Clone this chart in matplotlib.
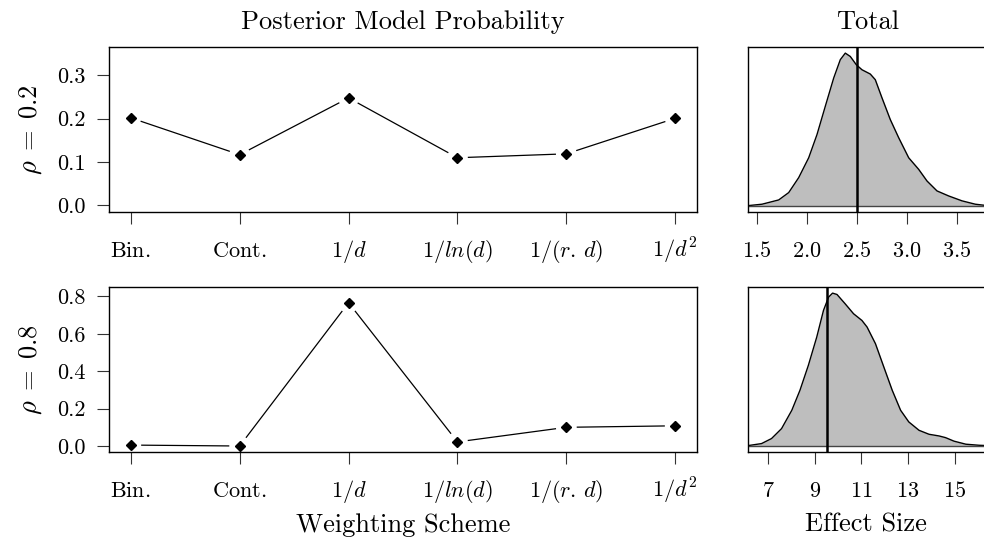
import numpy as np
import matplotlib
matplotlib.use("Agg")
import matplotlib.pyplot as plt

plt.rcParams['font.family'] = 'serif'
plt.rcParams['font.serif'] = ['cmr10']
plt.rcParams['mathtext.fontset'] = 'cm'
plt.rcParams['axes.formatter.use_mathtext'] = True

# ---------------- data ----------------
schemes = [r"$\mathrm{Bin.}$", r"$\mathrm{Cont.}$", r"$1/d$", r"$1/ln(d)$",
           r"$1/(r.\,d)$", r"$1/d^2$"]
prob_rho02 = [0.202, 0.117, 0.248, 0.110, 0.119, 0.201]
prob_rho08 = [0.005, 0.000, 0.766, 0.022, 0.100, 0.108]
rho_labels = [r"$\rho\;=\;0.2$", r"$\rho\;=\;0.8$"]
yticks_02 = [0.0, 0.1, 0.2, 0.3]
yticks_08 = [0.0, 0.2, 0.4, 0.6, 0.8]

# effect size posterior densities (relative heights)
eff_x_02 = [1.417, 1.55, 1.717, 1.817, 1.917, 2.017, 2.10, 2.183, 2.267, 2.333,
            2.383, 2.433, 2.493, 2.55, 2.633, 2.683, 2.75, 2.833, 2.917, 3.017,
            3.117, 3.20, 3.30, 3.417, 3.55, 3.683, 3.80]
eff_d_02 = [0.002, 0.011, 0.039, 0.087, 0.185, 0.315, 0.467, 0.652, 0.837,
            0.957, 1.000, 0.978, 0.924, 0.891, 0.863, 0.826, 0.707, 0.565,
            0.446, 0.315, 0.239, 0.163, 0.098, 0.065, 0.033, 0.011, 0.002]
true_02 = 2.5
xticks_02 = [1.5, 2.0, 2.5, 3.0, 3.5]

eff_x_08 = [6.14, 6.71, 7.14, 7.57, 8.01, 8.36, 8.72, 9.08, 9.37, 9.59, 9.76,
            9.95, 10.30, 10.66, 11.02, 11.24, 11.60, 11.96, 12.32, 12.68,
            13.03, 13.47, 13.90, 14.33, 14.61, 14.97, 15.48, 16.05, 16.40]
eff_d_08 = [0.002, 0.015, 0.048, 0.113, 0.233, 0.364, 0.527, 0.712, 0.887,
            0.974, 1.000, 0.991, 0.930, 0.865, 0.821, 0.778, 0.669, 0.516,
            0.364, 0.233, 0.157, 0.102, 0.076, 0.065, 0.054, 0.031, 0.011,
            0.004, 0.002]
true_08 = 9.5
xticks_08 = [7, 9, 11, 13, 15]

# ---------------- layout ----------------
W, H = 984, 543
fig = plt.figure(figsize=(W / 100, H / 100), dpi=100)

def fx(px):
    return px / W

def fy(py):
    return 1 - py / H

ax_l_left, ax_l_right = 109, 697
ax_r_left, ax_r_right = 748, 988
rows = [(47, 212), (287, 452)]

TICK_LEN = 8.6
TICK_FS = 16
LAB_FS = 19

def style_axes(ax):
    for s in ax.spines.values():
        s.set_linewidth(1.0)
        s.set_color('black')
    ax.tick_params(direction='out', length=TICK_LEN, width=0.8, color='#333333',
                   labelsize=TICK_FS)
    ax.tick_params(axis='x', pad=24)
    ax.tick_params(axis='y', pad=8)

def baseline_xlabels(ax):
    for lab in ax.get_xticklabels():
        lab.set_va('baseline')

def type_b(ax, xs, ys, gap_px=11):
    # R-style type="b": points plus lines with gaps around points
    T = ax.transData
    inv = T.inverted()
    pts = T.transform(np.column_stack([xs, ys]))
    for i in range(len(pts) - 1):
        p0, p1 = pts[i], pts[i + 1]
        v = p1 - p0
        L = np.hypot(*v)
        if L <= 2 * gap_px:
            continue
        u = v / L
        a = inv.transform(p0 + u * gap_px)
        b = inv.transform(p1 - u * gap_px)
        ax.plot([a[0], b[0]], [a[1], b[1]], color='black', lw=0.9)
    ax.plot(xs, ys, ls='none', marker='D', ms=5.2, color='black', mec='black')

prob_sets = [(prob_rho02, yticks_02, (-0.0152, 0.3655)),
             (prob_rho08, yticks_08, (-0.032, 0.85))]
dens_sets = [(eff_x_02, eff_d_02, true_02, xticks_02, (1.41, 3.81)),
             (eff_x_08, eff_d_08, true_08, xticks_08, (6.13, 16.43))]

xpos = np.arange(1, len(schemes) + 1)

for r, (top, bot) in enumerate(rows):
    # left: posterior model probabilities
    ax = fig.add_axes([fx(ax_l_left), fy(bot), fx(ax_l_right - ax_l_left),
                       (bot - top) / H])
    vals, yt, yl = prob_sets[r]
    ax.set_xlim(0.8, 6.2)
    ax.set_ylim(*yl)
    style_axes(ax)
    ax.set_xticks(xpos)
    ax.set_xticklabels(schemes)
    baseline_xlabels(ax)
    ax.set_yticks(yt)
    ax.set_yticklabels([f"{v:.1f}" for v in yt])
    type_b(ax, xpos, vals)
    ax.set_ylabel(rho_labels[r], fontsize=LAB_FS, labelpad=10)
    if r == 0:
        ax.set_title("Posterior Model Probability", fontsize=LAB_FS, pad=13)
    else:
        fig.text(fx((ax_l_left + ax_l_right) / 2), fy(525), "Weighting Scheme",
                 fontsize=LAB_FS, ha='center', va='center')

    # right: effect size density
    ax2 = fig.add_axes([fx(ax_r_left), fy(bot), fx(ax_r_right - ax_r_left),
                        (bot - top) / H])
    ex, ed, tv, xt, xl = dens_sets[r]
    ax2.set_xlim(*xl)
    ax2.set_ylim(-0.04 * max(ed), 1.04 * max(ed))
    style_axes(ax2)
    ax2.fill_between(ex, 0, ed, color='#BEBEBE', lw=0)
    ax2.plot(ex, ed, color='black', lw=1.0)
    ax2.axhline(0, color='#444444', lw=1.0)
    ax2.axvline(tv, color='black', lw=1.8)
    ax2.set_yticks([])
    ax2.set_xticks(xt)
    if r == 0:
        ax2.set_xticklabels([f"${v:.1f}$" for v in xt])
        ax2.set_title("Total", fontsize=LAB_FS, pad=13)
    else:
        ax2.set_xticklabels([f"${v:d}$" for v in xt])
        fig.text(fx(866), fy(525), "Effect Size",
                 fontsize=LAB_FS, ha='center', va='center')
    baseline_xlabels(ax2)

fig.savefig("out.png", dpi=100)
